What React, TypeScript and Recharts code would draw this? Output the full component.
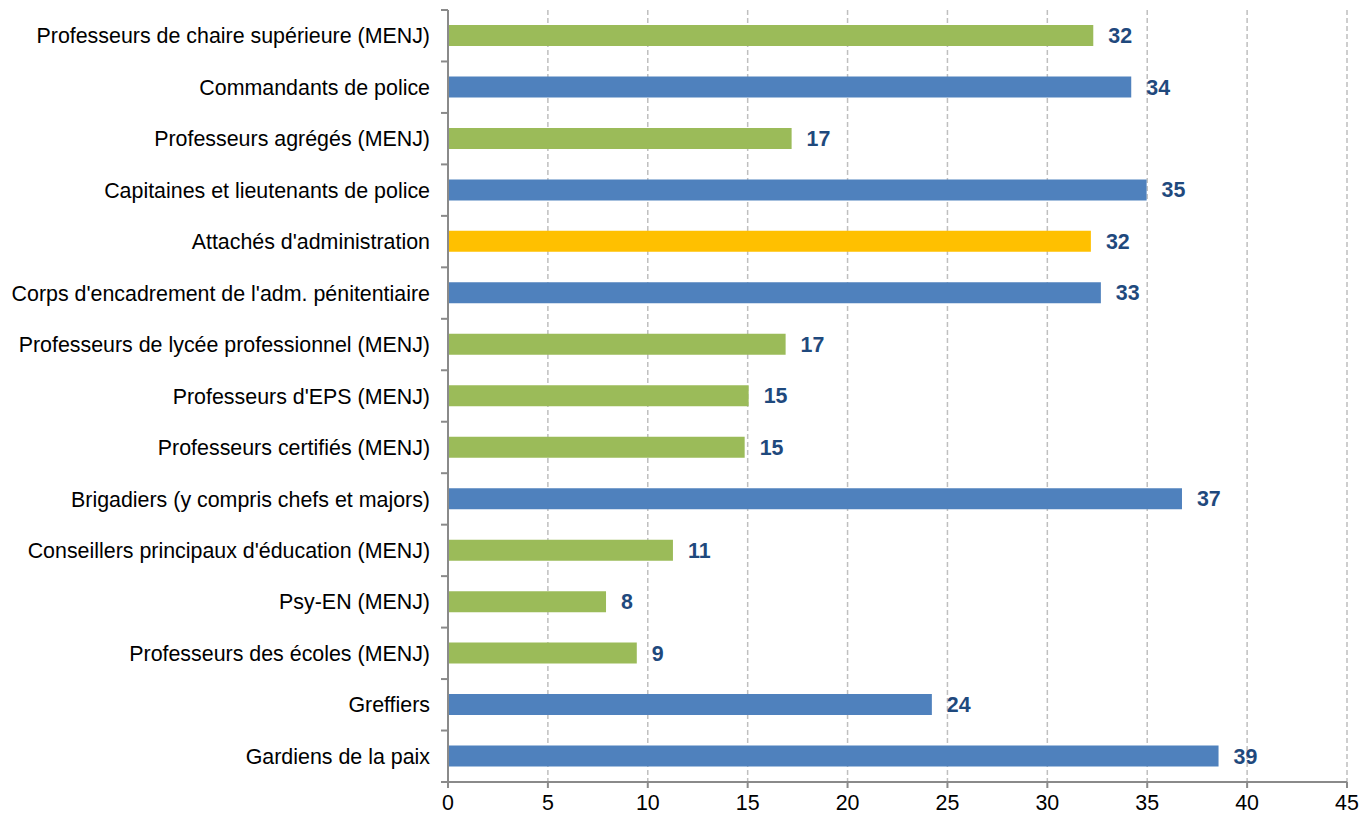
import React from 'react';
import { BarChart, Bar, XAxis, YAxis, CartesianGrid, Cell, LabelList } from 'recharts';

const categories = [
    'Professeurs de chaire supérieure (MENJ)',
    'Commandants de police',
    'Professeurs agrégés (MENJ)',
    'Capitaines et lieutenants de police',
    "Attachés d'administration",
    "Corps d'encadrement de l'adm. pénitentiaire",
    'Professeurs de lycée professionnel (MENJ)',
    "Professeurs d'EPS (MENJ)",
    'Professeurs certifiés (MENJ)',
    'Brigadiers (y compris chefs et majors)',
    "Conseillers principaux d'éducation (MENJ)",
    'Psy-EN (MENJ)',
    'Professeurs des écoles (MENJ)',
    'Greffiers',
    'Gardiens de la paix',
];

const values = [32.3, 34.2, 17.2, 34.97, 32.18, 32.68, 16.9, 15.05, 14.85, 36.74, 11.26, 7.91, 9.45, 24.22, 38.57];

// which group each row belongs to (drives the colour)
const groups = ['menj', 'autre', 'menj', 'autre', 'admin', 'autre', 'menj', 'menj', 'menj', 'autre', 'menj', 'menj', 'menj', 'autre', 'autre'];

const xTicks = [0, 5, 10, 15, 20, 25, 30, 35, 40, 45];

const groupColors: Record<string, string> = {
    menj: '#9BBB59',
    autre: '#4F81BD',
    admin: '#FFC000',
};

const WIDTH = 1361;
const HEIGHT = 815;
const MARGIN = { top: 10, right: 14, bottom: 0, left: 0 };
const X_AXIS_H = 33;
const PLOT_H = HEIGHT - MARGIN.top - MARGIN.bottom - X_AXIS_H;
const BAND = PLOT_H / categories.length;
const FONT = '"Liberation Sans", Arial, Helvetica, sans-serif';
const FONT_SIZE = 21.4;
const AXIS_COLOR = '#8a8a8a';

const data = categories.map((name, i) => ({ name, value: values[i], group: groups[i] }));

function CategoryTick(props: any) {
    const { x, y, payload, index } = props;
    const last = index === categories.length - 1;
    return (
        <g>
            <line x1={x - 7} x2={x} y1={y - BAND / 2} y2={y - BAND / 2} stroke={AXIS_COLOR} strokeWidth={2} />
            {last && <line x1={x - 7} x2={x} y1={y + BAND / 2} y2={y + BAND / 2} stroke={AXIS_COLOR} strokeWidth={2} />}
            <text x={x - 18} y={y} dy="0.355em" textAnchor="end" fontSize={FONT_SIZE} fill="#000" fontFamily={FONT}>
                {payload.value}
            </text>
        </g>
    );
}

export default function App() {
    return (
        <div style={{ position: 'absolute', left: 0, top: 0, width: WIDTH, height: HEIGHT, background: '#fff' }}>
            <BarChart
                width={WIDTH}
                height={HEIGHT}
                data={data}
                layout="vertical"
                margin={MARGIN}
                style={{ fontFamily: FONT }}
            >
                <CartesianGrid horizontal={false} stroke="#BFBFBF" strokeDasharray="5 3" strokeWidth={1.5} />
                <XAxis
                    type="number"
                    domain={[0, 45]}
                    ticks={xTicks}
                    height={X_AXIS_H}
                    axisLine={{ stroke: AXIS_COLOR, strokeWidth: 2 }}
                    tickLine={{ stroke: AXIS_COLOR, strokeWidth: 2 }}
                    tickSize={6}
                    tickMargin={7}
                    tick={{ fontSize: FONT_SIZE, fill: '#000', fontFamily: FONT }}
                    interval={0}
                />
                <YAxis
                    type="category"
                    dataKey="name"
                    width={448}
                    axisLine={{ stroke: AXIS_COLOR, strokeWidth: 2 }}
                    tickLine={false}
                    tickSize={0}
                    tickMargin={0}
                    interval={0}
                    tick={<CategoryTick />}
                />
                <Bar dataKey="value" barSize={21} isAnimationActive={false}>
                    {data.map((d, i) => (
                        <Cell key={`cell-${i}`} fill={groupColors[d.group]} />
                    ))}
                    <LabelList
                        dataKey="value"
                        position="right"
                        offset={15}
                        formatter={(v: any) => Math.round(Number(v))}
                        style={{ fontSize: FONT_SIZE, fontWeight: 700, fill: '#1F497D', fontFamily: FONT }}
                    />
                </Bar>
            </BarChart>
        </div>
    );
}
